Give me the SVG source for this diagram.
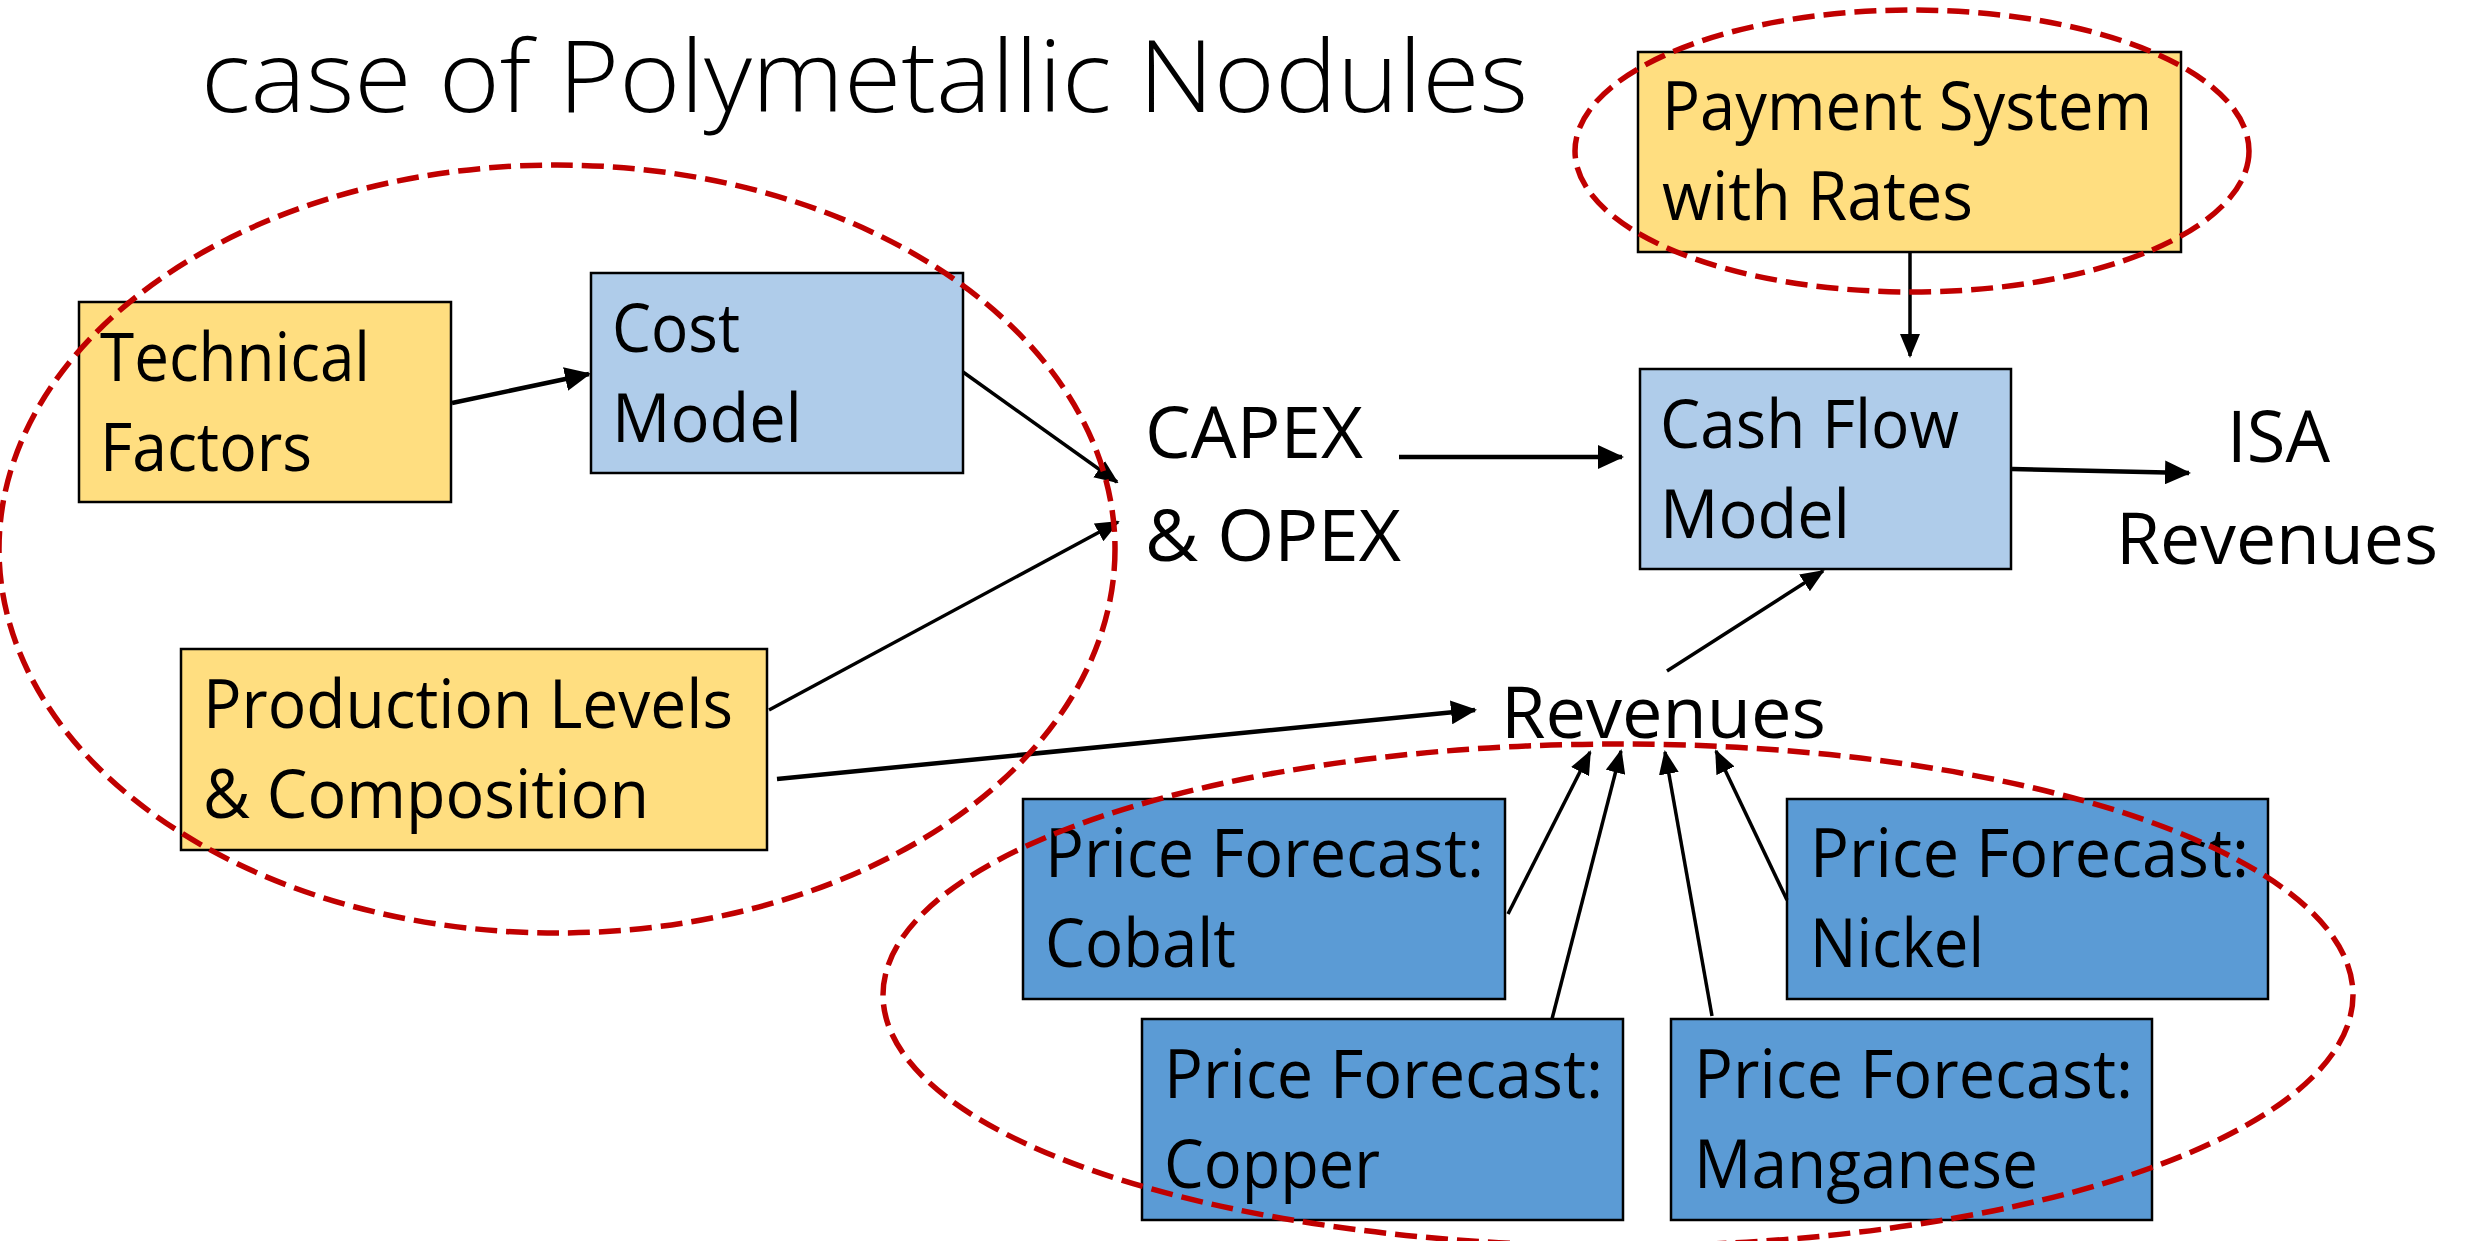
<svg xmlns="http://www.w3.org/2000/svg" width="2473" height="1241" viewBox="0 0 2473 1241">
<defs>
<style>
.t{font-family:"Open Sans","Liberation Sans",sans-serif;fill:#000;}
.bt{font-size:68px;}
.lbl{font-size:72px;}
.box{stroke:#000;stroke-width:2.5;}
.y{fill:#FFDE80;}
.lb{fill:#AFCCEA;}
.db{fill:#5B9BD5;}
.c{fill:none;stroke:#000;stroke-width:4.5;}
.c2{fill:none;stroke:#000;stroke-width:3.5;}
.e{fill:none;stroke:#C00000;stroke-width:5.5;stroke-dasharray:22 9;}
</style>
<marker id="ah" viewBox="0 0 26 24" refX="24" refY="12" markerWidth="26" markerHeight="24" markerUnits="userSpaceOnUse" orient="auto">
<path d="M0,0 L26,12 L0,24 z" fill="#000"/>
</marker>
<marker id="ahs" viewBox="0 0 24 20" refX="22" refY="10" markerWidth="24" markerHeight="20" markerUnits="userSpaceOnUse" orient="auto">
<path d="M0,0 L24,10 L0,20 z" fill="#000"/>
</marker>
</defs>
<rect width="2473" height="1241" fill="#fff"/>
<text class="t" x="201" y="112" font-size="100" font-weight="300" textLength="1327" lengthAdjust="spacingAndGlyphs">case of Polymetallic Nodules</text>

<g id="technical-factors">
<rect class="box y" x="79" y="302" width="372" height="200"/>
<text class="t bt" x="100" y="381" textLength="270" lengthAdjust="spacingAndGlyphs">Technical</text>
<text class="t bt" x="100" y="471" textLength="212" lengthAdjust="spacingAndGlyphs">Factors</text>
</g>
<g id="cost-model">
<rect class="box lb" x="591" y="273" width="372" height="200"/>
<text class="t bt" x="612" y="352" textLength="128" lengthAdjust="spacingAndGlyphs">Cost</text>
<text class="t bt" x="612" y="442" textLength="190" lengthAdjust="spacingAndGlyphs">Model</text>
</g>
<g id="production">
<rect class="box y" x="181" y="649" width="586" height="201"/>
<text class="t bt" x="203" y="728" textLength="530" lengthAdjust="spacingAndGlyphs">Production Levels</text>
<text class="t bt" x="203" y="818" textLength="446" lengthAdjust="spacingAndGlyphs">&amp; Composition</text>
</g>
<g id="capex-opex">
<text class="t lbl" x="1145" y="458" textLength="218" lengthAdjust="spacingAndGlyphs">CAPEX</text>
<text class="t lbl" x="1145" y="561" textLength="256" lengthAdjust="spacingAndGlyphs">&amp; OPEX</text>
</g>
<g id="payment-system">
<rect class="box y" x="1638" y="52" width="543" height="200"/>
<text class="t bt" x="1662" y="130" textLength="490" lengthAdjust="spacingAndGlyphs">Payment System</text>
<text class="t bt" x="1662" y="220" textLength="311" lengthAdjust="spacingAndGlyphs">with Rates</text>
</g>
<g id="cash-flow-model">
<rect class="box lb" x="1640" y="369" width="371" height="200"/>
<text class="t bt" x="1660" y="448" textLength="299" lengthAdjust="spacingAndGlyphs">Cash Flow</text>
<text class="t bt" x="1660" y="538" textLength="190" lengthAdjust="spacingAndGlyphs">Model</text>
</g>
<g id="isa-revenues">
<text class="t lbl" x="2227" y="462" textLength="103" lengthAdjust="spacingAndGlyphs">ISA</text>
<text class="t lbl" x="2116" y="564" textLength="322" lengthAdjust="spacingAndGlyphs">Revenues</text>
</g>
<g id="revenues">
<text class="t lbl" x="1501" y="738" textLength="325" lengthAdjust="spacingAndGlyphs">Revenues</text>
</g>
<g id="price-cobalt">
<rect class="box db" x="1023" y="799" width="482" height="200"/>
<text class="t bt" x="1045" y="877" textLength="439" lengthAdjust="spacingAndGlyphs">Price Forecast:</text>
<text class="t bt" x="1045" y="967" textLength="191" lengthAdjust="spacingAndGlyphs">Cobalt</text>
</g>
<g id="price-nickel">
<rect class="box db" x="1787" y="799" width="481" height="200"/>
<text class="t bt" x="1810" y="877" textLength="439" lengthAdjust="spacingAndGlyphs">Price Forecast:</text>
<text class="t bt" x="1810" y="967" textLength="174" lengthAdjust="spacingAndGlyphs">Nickel</text>
</g>
<g id="price-copper">
<rect class="box db" x="1142" y="1019" width="481" height="201"/>
<text class="t bt" x="1164" y="1098" textLength="439" lengthAdjust="spacingAndGlyphs">Price Forecast:</text>
<text class="t bt" x="1164" y="1188" textLength="216" lengthAdjust="spacingAndGlyphs">Copper</text>
</g>
<g id="price-manganese">
<rect class="box db" x="1671" y="1019" width="481" height="201"/>
<text class="t bt" x="1694" y="1098" textLength="439" lengthAdjust="spacingAndGlyphs">Price Forecast:</text>
<text class="t bt" x="1694" y="1188" textLength="344" lengthAdjust="spacingAndGlyphs">Manganese</text>
</g>

<g id="connectors">
<path class="c" d="M452,403 L589,374" marker-end="url(#ah)"/>
<path class="c2" d="M963,372 L1117,482" marker-end="url(#ahs)"/>
<path class="c2" d="M769,710 L1118,522" marker-end="url(#ahs)"/>
<path class="c" d="M777,779 L1475,710" marker-end="url(#ah)"/>
<path class="c" d="M1399,457 L1622,457" marker-end="url(#ah)"/>
<path class="c2" d="M1910,252 L1910,356" marker-end="url(#ahs)"/>
<path class="c" d="M2012,469 L2189,473" marker-end="url(#ah)"/>
<path class="c2" d="M1667,671 L1823,571" marker-end="url(#ahs)"/>
<path class="c2" d="M1508,914 L1590,752" marker-end="url(#ahs)"/>
<path class="c2" d="M1552,1019 L1621,751" marker-end="url(#ahs)"/>
<path class="c2" d="M1712,1016 L1665,752" marker-end="url(#ahs)"/>
<path class="c2" d="M1787,900 L1716,751" marker-end="url(#ahs)"/>
</g>

<g id="groupings">
<ellipse class="e" cx="557" cy="549" rx="558" ry="384"/>
<ellipse class="e" cx="1912" cy="151" rx="337" ry="141"/>
<ellipse class="e" cx="1618" cy="995" rx="735" ry="251"/>
</g>
</svg>
